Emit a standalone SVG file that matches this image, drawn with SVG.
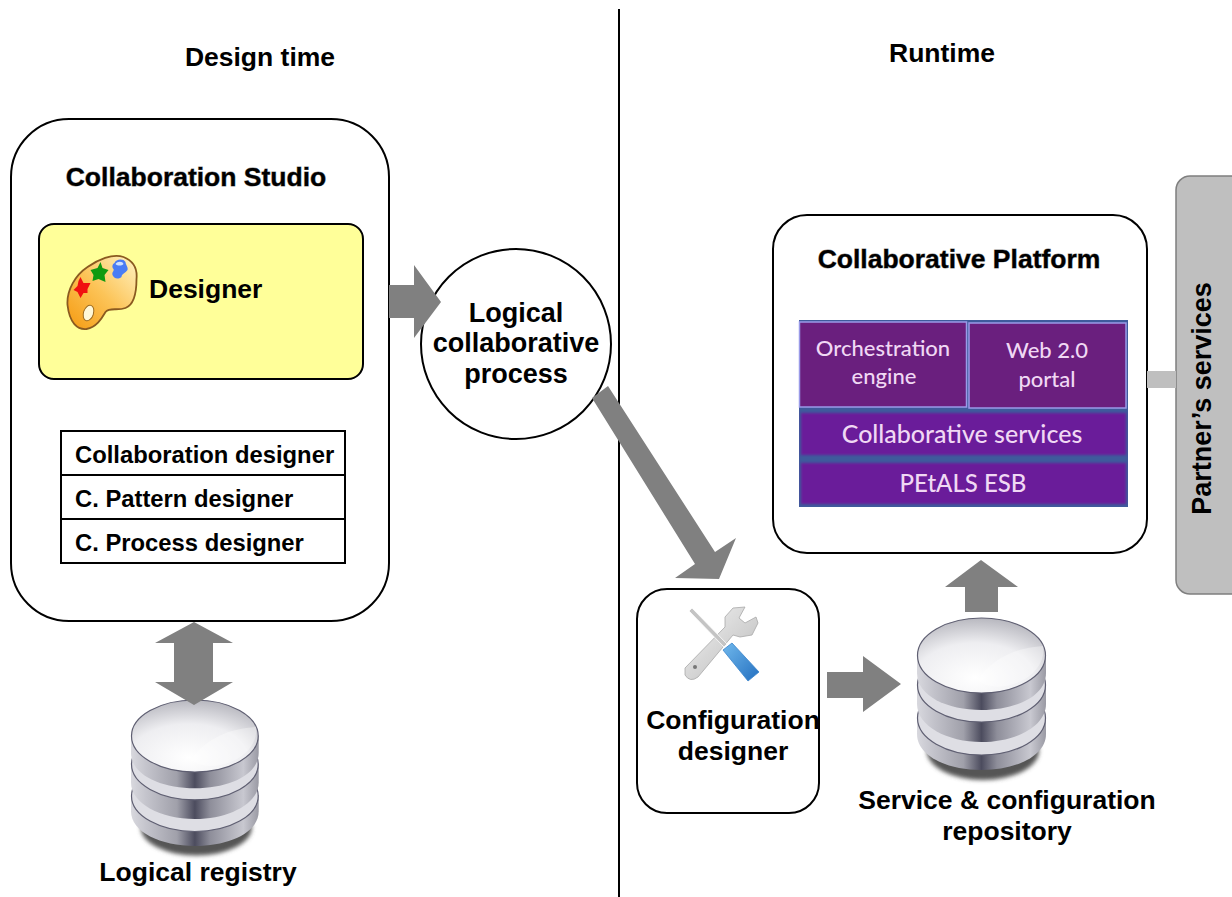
<svg xmlns="http://www.w3.org/2000/svg" width="1232" height="897" viewBox="0 0 1232 897">
<style>
text{font-family:"Liberation Sans",Arial,sans-serif;font-weight:bold;fill:#000}
.t{font-size:26.500px}
.c{font-size:27px}
.m{text-anchor:middle}
.s{font-size:23.800px}
.sh{stroke:#888;stroke-width:.8px;paint-order:stroke}
.box{fill:#fff;stroke:#000;stroke-width:2px}
.arrow{fill:#808080}
.p{font-family:Lato,"Open Sans",sans-serif;font-weight:500;fill:#f0d8f4;text-anchor:middle}
.band{fill:#dedee4;stroke:#5f5f72;stroke-width:1.200px}
.side{fill:url(#side)}
</style>
<defs>
<filter id="soft" x="-5%" y="-5%" width="110%" height="110%"><feGaussianBlur stdDeviation="1"/></filter>
<filter id="shadow" x="-20%" y="-20%" width="140%" height="140%"><feGaussianBlur stdDeviation="2"/></filter>
<radialGradient id="disc" cx=".45" cy=".8" r=".85"><stop offset="0" stop-color="#ffffff"/><stop offset=".55" stop-color="#eeeef1"/><stop offset="1" stop-color="#b0b0b8"/></radialGradient>
<linearGradient id="side" x1="0" y1="0" x2="1" y2="0"><stop offset="0" stop-color="#d8d8de"/><stop offset=".12" stop-color="#c4c4cc"/><stop offset=".36" stop-color="#a0a0aa"/><stop offset=".5" stop-color="#4c4c5e"/><stop offset=".62" stop-color="#8e8e9a"/><stop offset=".88" stop-color="#c8c8d0"/><stop offset="1" stop-color="#9a9aa4"/></linearGradient>
<linearGradient id="pal" x1="0" y1="1" x2="1" y2="0"><stop offset="0" stop-color="#f59a10"/><stop offset=".5" stop-color="#fcc458"/><stop offset="1" stop-color="#fff4c4"/></linearGradient>
<linearGradient id="blue" x1="0" y1="0" x2="1" y2="1"><stop offset="0" stop-color="#70b8ec"/><stop offset="1" stop-color="#2470c0"/></linearGradient>
<linearGradient id="steel" x1="0" y1="0" x2="1" y2="1"><stop offset="0" stop-color="#f4f4f4"/><stop offset="1" stop-color="#b8b8b8"/></linearGradient>
<g id="db">
<ellipse cx="66" cy="133" rx="56" ry="29" fill="#555" filter="url(#shadow)"/>
<path class="side" d="M0 99V116C0 138 30 152 64.500 152S129 138 129 116V99Z"/>
<ellipse class="band" cx="64.500" cy="100" rx="64" ry="37"/>
<path class="side" d="M0 67V86C0 108 30 124 64.500 124S129 108 129 86V67Z"/>
<ellipse class="band" cx="64.500" cy="67" rx="64" ry="37"/>
<path class="side" d="M0 37V55C0 78 30 92 64.500 92S129 78 129 55V37Z"/>
<ellipse cx="64.500" cy="37.500" rx="64" ry="37.500" fill="url(#disc)" stroke="#5f5f72" stroke-width="1.200"/>
<path d="M60 62C78 38 100 30 126 28C128 40 122 52 108 61C92 70 72 72 60 62Z" fill="#fff" opacity=".35"/>
</g>
<g id="palette">
<path d="M56 2C66 6 70 14 69 24C69 38 66 50 58 53C50 56 42 52 38 57C35 62 30 72 19 74C10 75 2 68 0 50C-1 35 8 20 20 12C30 5 45-2 56 2Z" fill="url(#pal)" stroke="#8a5a20" stroke-width="1.800"/>
<ellipse cx="21" cy="58" rx="5" ry="8" transform="rotate(18 21 58)" fill="#fff8d8" stroke="#9a6a20"/>
<polygon points="13,22 16,28 23,28 20,34 20,38 16,38 13,43 10,37 6,35 10,31 11,26" fill="#f01010"/>
<polygon points="33,7 35,13 41,15 37,20 38,27 31,24 25,26 26,20 23,15 30,13" fill="#109a10"/>
<path d="M47 8C48 4 56 3 58 7C58 10 61 12 60 15C58 18 54 19 54 22C50 25 46 23 45 20C44 17 47 16 46 14C44 12 45 9 47 8Z" fill="#4a7cf4"/>
<path d="M48 9C50 6 55 6 56 9C54 11 50 11 48 9Z" fill="#cfe0ff"/>
</g>
</defs>

<line x1="619" y1="9" x2="619" y2="897" stroke="#000" stroke-width="2"/>

<text class="t m" x="260" y="66">Design time</text>
<text class="t m" x="942" y="62">Runtime</text>

<g id="collaboration-studio">
<rect class="box" x="11" y="119" width="378" height="502" rx="58"/>
<text class="t m sh" x="196" y="186">Collaboration Studio</text>
</g>
<g id="designer">
<rect x="39" y="224" width="324" height="155" rx="15" fill="#ffff99" stroke="#000" stroke-width="2"/>
<use href="#palette" x="67.500" y="255"/>
<text class="t" x="149" y="298">Designer</text>
</g>
<g id="designer-list">
<rect x="61" y="431" width="284" height="132" fill="#fff" stroke="#000" stroke-width="2"/>
<line x1="61" y1="475" x2="345" y2="475" stroke="#000" stroke-width="2"/>
<line x1="61" y1="519" x2="345" y2="519" stroke="#000" stroke-width="2"/>
<text class="s" x="75" y="463">Collaboration designer</text>
<text class="s" x="75" y="507">C. Pattern designer</text>
<text class="s" x="75" y="551">C. Process designer</text>
</g>
<g id="logical-process">
<circle class="box" cx="516" cy="344" r="95"/>
<text class="c m" x="516" y="322">Logical</text>
<text class="c m" x="516" y="352">collaborative</text>
<text class="c m" x="516" y="383">process</text>
</g>
<g id="logical-registry">
<use href="#db" transform="translate(131 700) scale(.99 .96)"/>
<text class="t m" x="198" y="881">Logical registry</text>
</g>
<g id="configuration-designer">
<rect class="box" x="637" y="589" width="182" height="224" rx="30"/>
<path d="M685 668L725 627V617L733 608L745 607L739 618L745 623L756 617L758 623L752 635L740 637L733 635L698 677Q690 683 685 675Z" fill="url(#steel)" stroke="#a8a8a8" stroke-width=".8"/>
<circle cx="695" cy="667" r="2" fill="#777"/>
<polygon points="689,611 692,608 727,644 724,647" fill="#c4c4c4" stroke="#fff" stroke-width=".8"/>
<polygon points="723,650 732,643 759,672 748,681" fill="url(#blue)" stroke="#3a84cc" stroke-width=".8" stroke-linejoin="round"/>
<text class="t m" x="733" y="729">Configuration</text>
<text class="t m" x="733" y="760">designer</text>
</g>
<g id="repository">
<use href="#db" x="917" y="618"/>
<text class="t m" x="1007" y="809">Service &amp; configuration</text>
<text class="t m" x="1007" y="840">repository</text>
</g>
<g id="collaborative-platform">
<rect class="box" x="773" y="215" width="374" height="338" rx="34"/>
<text class="t m sh" x="959" y="268">Collaborative Platform</text>
<rect x="799" y="320" width="329" height="187" fill="#3f5a9c"/>
<rect x="799.500" y="322" width="167" height="85" fill="#6a1f7e" stroke="#9a9ae8" stroke-width="1.500"/>
<rect x="969" y="323" width="157" height="85" fill="#6a1f7e" stroke="#9a9ae8" stroke-width="1.500"/>
<g filter="url(#soft)">
<rect x="801" y="413" width="325" height="42" fill="#6a1f9a"/>
<rect x="801" y="463" width="325" height="41" fill="#6a1f9a"/>
</g>
<text class="p" x="883" y="356" font-size="22">Orchestration</text>
<text class="p" x="884" y="384" font-size="22">engine</text>
<text class="p" x="1047" y="358" font-size="22">Web 2.0</text>
<text class="p" x="1047" y="387" font-size="22">portal</text>
<text class="p" x="962" y="443" font-size="25">Collaborative services</text>
<text class="p" x="963" y="492" font-size="24">PEtALS ESB</text>
</g>
<g id="partner-services">
<rect x="1176" y="176" width="70" height="418" rx="14" fill="#bfbfbf" stroke="#7f7f7f" stroke-width="1.500"/>
<text class="c m" transform="translate(1211 398.500) rotate(-90)">Partner’s services</text>
</g>

<g id="connectors">
<rect x="1147" y="371" width="29" height="17" fill="#bfbfbf"/>
<polygon class="arrow" points="389,285 414,285 414,265 441,302 414,338 414,318 389,318"/>
<polygon class="arrow" points="592,398 608,386 715,552 736,538 719,579 675,578 695,564"/>
<polygon class="arrow" points="194,622 233,643 213,643 213,682 233,682 194,705 155,682 174,682 174,643 155,643"/>
<polygon class="arrow" points="827,672 863,672 863,656 901,684 863,712 863,698 827,698"/>
<polygon class="arrow" points="981,560 1018,587 998,587 998,612 965,612 965,587 945,587"/>
</g>
</svg>
